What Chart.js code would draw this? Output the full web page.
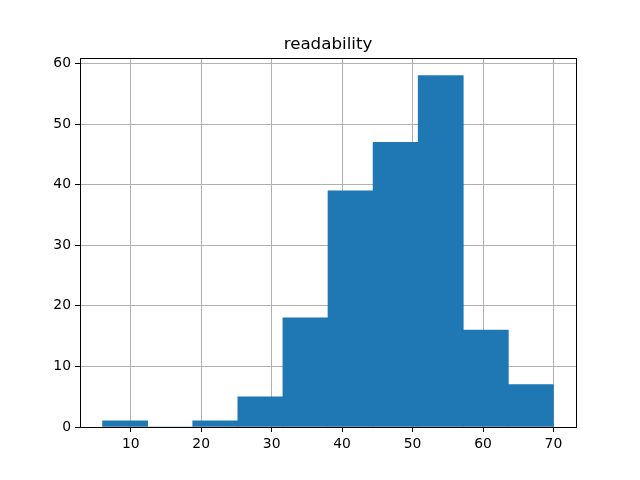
<!DOCTYPE html>
<html>
<head>
<meta charset="utf-8">
<script src="https://cdn.jsdelivr.net/npm/chart.js@4"></script>
<style>
  html, body { margin: 0; padding: 0; background: #fff; }
  #wrap { width: 640px; height: 480px; }
</style>
</head>
<body>
<div id="wrap"><canvas id="myChart" width="640" height="480"></canvas></div>
<script>
// histogram bins (edges) and counts
const binEdges = [6.0, 12.4, 18.8, 25.2, 31.6, 38.0, 44.4, 50.8, 57.2, 63.6, 70.0];
const counts = [1, 0, 1, 5, 18, 39, 47, 58, 16, 7];
const xTicks = [10, 20, 30, 40, 50, 60, 70];
const yTicks = [0, 10, 20, 30, 40, 50, 60];

const points = counts.map((c, i) => ({
    x: (binEdges[i] + binEdges[i + 1]) / 2,
    y: c,
}));

const frame = {
    id: 'frame',
    afterDraw(chart) {
        const a = chart.chartArea;
        const ctx = chart.ctx;
        ctx.save();
        ctx.strokeStyle = '#000';
        ctx.lineWidth = 1;
        ctx.strokeRect(Math.round(a.left) + 0.5, Math.round(a.top) + 0.5,
            Math.round(a.right - a.left), Math.round(a.bottom - a.top));
        ctx.restore();
    }
};

const tickFont = { family: 'DejaVu Sans', size: 13.9 };

const config = {
    type: 'bar',
    data: {
        datasets: [{
            label: 'readability',
            data: points,
            backgroundColor: '#1f77b4',
            borderWidth: 0,
            barPercentage: 1,
            categoryPercentage: 1,
        }]
    },
    plugins: [frame],
    options: {
        responsive: false,
        animation: false,
        layout: { padding: { left: 16, right: 0, top: 0, bottom: 0 } },
        plugins: {
            legend: { display: false },
            tooltip: { enabled: false },
            title: {
                display: true,
                text: 'readability',
                color: '#000',
                font: { family: 'DejaVu Sans', size: 16.7, weight: 'normal' },
                padding: { top: 35, bottom: 3 },
            },
        },
        scales: {
            x: {
                type: 'linear',
                min: 2.8,
                max: 73.2,
                offset: false,
                z: 1,
                afterBuildTicks: (s) => { s.ticks = xTicks.map(v => ({ value: v })); },
                afterFit: (s) => { s.height = 53; },
                grid: { offset: false, color: '#b0b0b0', lineWidth: 1, tickColor: '#000', tickLength: 5, drawTicks: true },
                border: { display: false },
                ticks: { color: '#000', font: tickFont, padding: 4, maxRotation: 0 },
            },
            y: {
                min: 0,
                max: 60.9,
                z: 1,
                afterBuildTicks: (s) => { s.ticks = yTicks.map(v => ({ value: v })); },
                afterFit: (s) => { s.width = 64; },
                grid: { color: '#b0b0b0', lineWidth: 1, tickColor: '#000', tickLength: 5, drawTicks: true },
                border: { display: false },
                ticks: { color: '#000', font: tickFont, padding: 4 },
            },
            // empty right-hand spacer so the plot ends where the reference's does
            spacer: {
                type: 'linear',
                position: 'right',
                afterFit: (s) => { s.width = 64; },
                grid: { display: false },
                border: { display: false },
                ticks: { display: false },
            },
        },
    },
};

const myChart = new Chart(document.getElementById('myChart'), config);
</script>
</body>
</html>
